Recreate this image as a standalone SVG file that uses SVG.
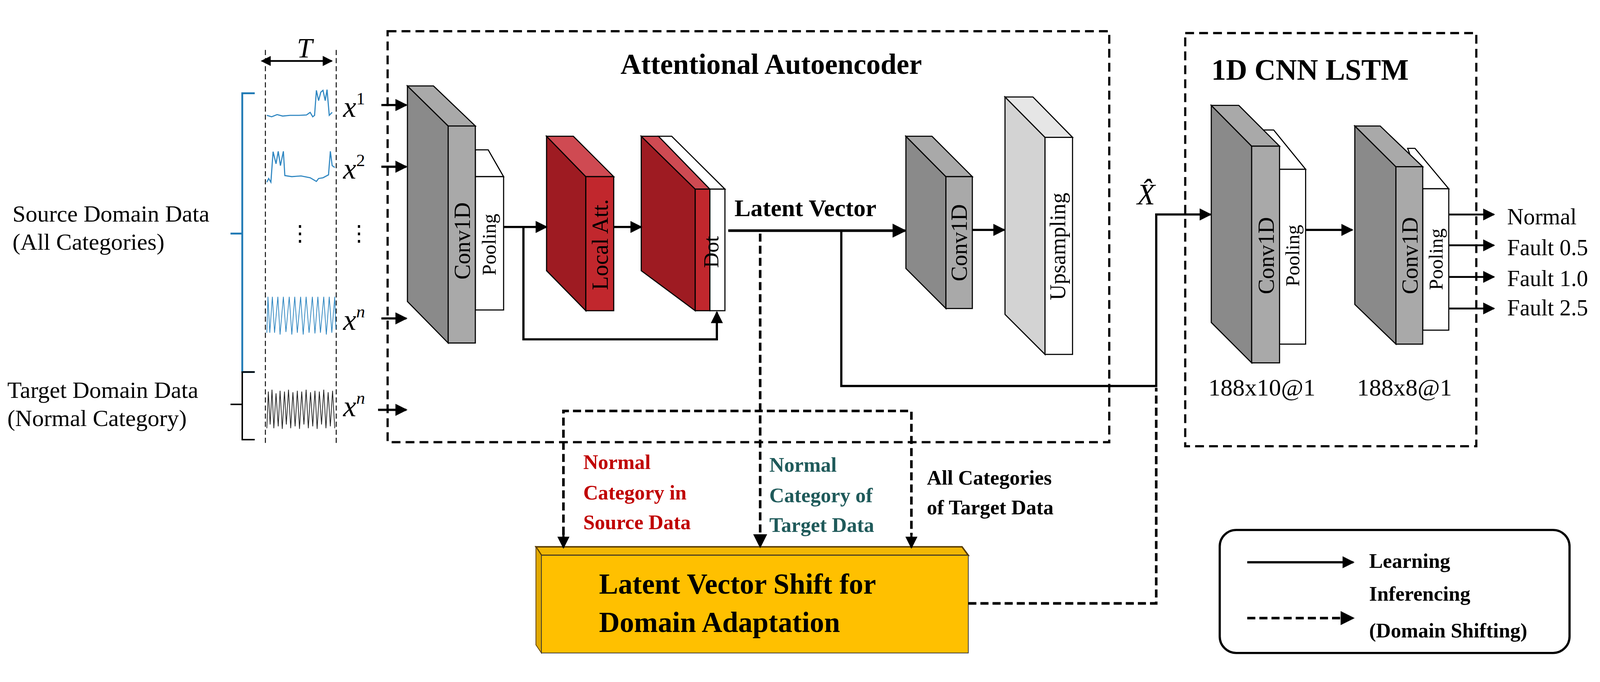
<svg xmlns="http://www.w3.org/2000/svg" width="4359" height="1745" viewBox="0 0 4359 1745" style="position:absolute;left:0;top:0;width:100vw;height:100vh">
<style>
text{font-family:"Liberation Serif","Times New Roman",serif;fill:#000}
.b{font-weight:bold}
.lbl{font-size:64px}
.vt{font-size:62px}
.dbox{fill:none;stroke:#000;stroke-width:6;stroke-dasharray:24 14}
.thin{fill:none;stroke:#000;stroke-width:2.5;stroke-dasharray:14 8}
.sol{fill:none;stroke:#000;stroke-width:6}
.dsh{fill:none;stroke:#000;stroke-width:7;stroke-dasharray:22 11}
.blk{stroke:#000;stroke-width:3}
</style>
<defs>
<marker id="ah" viewBox="0 0 10 10" refX="9" refY="5" markerWidth="5.5" markerHeight="5.5" orient="auto" markerUnits="strokeWidth"><path d="M0,0 L10,5 L0,10 z" fill="#000"/></marker>
<marker id="ah2" viewBox="0 0 10 10" refX="9" refY="5" markerWidth="6.5" markerHeight="6.5" orient="auto" markerUnits="strokeWidth"><path d="M0,0 L10,5 L0,10 z" fill="#000"/></marker>
<marker id="ahs" viewBox="0 0 10 10" refX="1" refY="5" markerWidth="5.5" markerHeight="5.5" orient="auto-start-reverse" markerUnits="strokeWidth"><path d="M0,0 L10,5 L0,10 z" fill="#000"/></marker>
</defs>

<g id="inputs">
<text x="34" y="547" class="lbl">Source  Domain Data</text>
<text x="34" y="624" class="lbl">(All Categories)</text>
<text x="20" y="1027" class="lbl">Target  Domain Data</text>
<text x="20" y="1104" class="lbl">(Normal Category)</text>
<path d="M694,198 H660 V580 H628 M660,580 V957 H694" fill="none" stroke="#1f7ab5" stroke-width="5"/>
<path d="M694,957 H660 V1045 H628 M660,1045 V1141 H694" fill="none" stroke="#000" stroke-width="4"/>
<line x1="723" y1="80" x2="723" y2="1150" class="thin"/>
<line x1="916" y1="80" x2="916" y2="1150" class="thin"/>
<line x1="735" y1="110" x2="904" y2="110" stroke="#000" stroke-width="5" marker-start="url(#ahs)" marker-end="url(#ah)"/>
<text x="830" y="100" font-size="76" font-style="italic" text-anchor="middle">T</text>
<path d="M727,258 L740,262 L755,256 L770,260 L790,258 L815,258 L835,257 L845,250 L852,262 L857,258 L862,190 L868,218 L874,195 L880,190 L886,218 L891,188 L897,258 L905,250" fill="none" stroke="#2e86c1" stroke-width="3"/>
<path d="M727,440 L732,430 L738,440 L744,357 L752,390 L758,356 L764,395 L772,356 L776,422 L795,425 L820,423 L845,428 L862,438 L868,430 L880,428 L895,420 L900,356 L905,395 L912,400" fill="none" stroke="#2e86c1" stroke-width="3"/>
<path d="M727,850 L730,752 L735,850 L742,752 L748,850 L757,752 L763,855 L772,752 L779,848 L788,752 L795,855 L803,752 L810,850 L819,752 L826,855 L834,752 L842,850 L851,752 L858,852 L866,752 L873,850 L882,752 L889,855 L897,752 L904,850 L912,752 L915,840" fill="none" stroke="#2e86c1" stroke-width="2"/>
<path d="M727,1110 L731,1010 L736,1100 L741,1005 L746,1110 L752,1015 L758,1105 L763,1008 L769,1112 L775,1010 L780,1100 L786,1005 L792,1110 L798,1012 L804,1105 L810,1008 L816,1112 L822,1010 L828,1100 L834,1005 L840,1110 L846,1012 L852,1105 L858,1008 L864,1112 L870,1010 L876,1100 L882,1005 L888,1110 L894,1012 L900,1105 L906,1008 L912,1110" fill="none" stroke="#222" stroke-width="2"/>
<text x="817" y="600" font-size="60" text-anchor="middle">⋮</text>
<text x="978" y="600" font-size="60" text-anchor="middle">⋮</text>
<text x="935" y="262" font-size="80" font-style="italic">x<tspan font-size="48" dy="-34" font-style="normal">1</tspan></text>
<text x="935" y="430" font-size="80" font-style="italic">x<tspan font-size="48" dy="-34" font-style="normal">2</tspan></text>
<text x="935" y="842" font-size="80" font-style="italic">x<tspan font-size="48" dy="-34">n</tspan></text>
<text x="935" y="1077" font-size="80" font-style="italic">x<tspan font-size="48" dy="-34">n</tspan></text>
</g>

<g id="autoencoder">
<rect x="1056" y="29" width="1966" height="1119" class="dbox"/>
<text x="2101" y="145" font-size="78" class="b" text-anchor="middle">Attentional  Autoencoder</text>
</g>

<g id="enc-conv">
<polygon points="1295,352 1295,425 1372,425 1330,352" fill="#fff" class="blk"/>
<rect x="1295" y="425" width="77" height="363" fill="#fff" class="blk"/>
<polygon points="1110,178 1221,287 1221,878 1110,765" fill="#8a8a8a" class="blk"/>
<polygon points="1110,178 1181,178 1295,287 1221,287" fill="#a9a9a9" class="blk"/>
<rect x="1221" y="287" width="74" height="591" fill="#a9a9a9" class="blk"/>
<text transform="translate(1280,600) rotate(-90)" class="vt" text-anchor="middle">Conv1D</text>
<text transform="translate(1350,610) rotate(-90)" font-size="54" text-anchor="middle">Pooling</text>
</g>

<g id="local-att">
<polygon points="1489,315 1596,425 1596,790 1489,681" fill="#9e1b22" class="blk"/>
<polygon points="1489,315 1562,315 1672,425 1596,425" fill="#cf4a52" class="blk"/>
<rect x="1596" y="425" width="76" height="365" fill="#c1272d" class="blk"/>
<text transform="translate(1656,610) rotate(-90)" class="vt" text-anchor="middle">Local Att.</text>
</g>

<g id="dot">
<polygon points="1747,315 1894,459 1894,790 1747,681" fill="#9e1b22" class="blk"/>
<polygon points="1747,315 1794,315 1934,459 1894,459" fill="#cf4a52" class="blk"/>
<polygon points="1794,315 1830,315 1975,459 1934,459" fill="#fff" class="blk"/>
<rect x="1894" y="459" width="40" height="331" fill="#c1272d" class="blk"/>
<rect x="1934" y="459" width="41" height="331" fill="#fff" class="blk"/>
<text transform="translate(1957,630) rotate(-90)" font-size="58" text-anchor="middle">Dot</text>
</g>

<g id="latent-label">
<text x="2001" y="532" font-size="66" class="b">Latent Vector</text>
</g>

<g id="dec-conv">
<polygon points="2468,315 2577,425 2577,784 2468,675" fill="#8a8a8a" class="blk"/>
<polygon points="2468,315 2539,315 2649,425 2577,425" fill="#a9a9a9" class="blk"/>
<rect x="2577" y="425" width="72" height="359" fill="#a9a9a9" class="blk"/>
<text transform="translate(2634,605) rotate(-90)" class="vt" text-anchor="middle">Conv1D</text>
</g>

<g id="upsampling">
<polygon points="2738,208 2847,318 2847,909 2738,800" fill="#d3d3d3" class="blk"/>
<polygon points="2738,208 2814,208 2922,318 2847,318" fill="#e6e6e6" class="blk"/>
<rect x="2847" y="318" width="75" height="591" fill="#fff" class="blk"/>
<text transform="translate(2902,615) rotate(-90)" font-size="60" text-anchor="middle">Upsampling</text>
</g>

<g id="cnnlstm">
<rect x="3229" y="34" width="793" height="1125" class="dbox"/>
<text x="3300" y="161" font-size="80" class="b">1D CNN LSTM</text>
<text x="3292" y="1021" font-size="66">188x10@1</text>
<text x="3697" y="1021" font-size="66">188x8@1</text>
</g>

<g id="cnn1">
<polygon points="3440,298 3470,298 3557,405 3486,405" fill="#fff" class="blk"/>
<rect x="3486" y="405" width="71" height="476" fill="#fff" class="blk"/>
<polygon points="3300,231 3410,342 3410,932 3300,822" fill="#8a8a8a" class="blk"/>
<polygon points="3300,231 3375,231 3486,342 3410,342" fill="#a9a9a9" class="blk"/>
<rect x="3410" y="342" width="76" height="590" fill="#a9a9a9" class="blk"/>
<text transform="translate(3470,640) rotate(-90)" class="vt" text-anchor="middle">Conv1D</text>
<text transform="translate(3540,640) rotate(-90)" font-size="54" text-anchor="middle">Pooling</text>
</g>

<g id="cnn2">
<polygon points="3835,348 3855,348 3947,458 3876,458" fill="#fff" class="blk"/>
<rect x="3876" y="458" width="71" height="385" fill="#fff" class="blk"/>
<polygon points="3691,287 3803,398 3803,881 3691,773" fill="#8a8a8a" class="blk"/>
<polygon points="3691,287 3760,287 3876,398 3803,398" fill="#a9a9a9" class="blk"/>
<rect x="3803" y="398" width="73" height="483" fill="#a9a9a9" class="blk"/>
<text transform="translate(3862,640) rotate(-90)" class="vt" text-anchor="middle">Conv1D</text>
<text transform="translate(3930,650) rotate(-90)" font-size="54" text-anchor="middle">Pooling</text>
</g>

<g id="outputs">
<text x="4106" y="555" font-size="62">Normal</text>
<text x="4106" y="639" font-size="62">Fault 0.5</text>
<text x="4106" y="723" font-size="62">Fault 1.0</text>
<text x="4106" y="803" font-size="62">Fault 2.5</text>
<text x="3098" y="501" font-size="80" font-style="italic">X̂</text>
</g>

<g id="shift-box">
<polygon points="1460,1433 2621,1433 2638,1456 1475,1456" fill="#f2b705" stroke="#5a3d00" stroke-width="4"/>
<polygon points="1460,1433 1475,1456 1475,1722 1460,1700" fill="#e0a800" stroke="#5a3d00" stroke-width="2"/>
<rect x="1475" y="1456" width="1163" height="266" fill="#ffc000" stroke="#333" stroke-width="2"/>
<text x="1632" y="1560" font-size="78" class="b">Latent Vector Shift for</text>
<text x="1632" y="1665" font-size="78" class="b">Domain Adaptation</text>
</g>

<g id="inference-labels" class="b" font-size="56">
<text x="1589" y="1221" style="fill:#c00000">Normal</text>
<text x="1589" y="1304" style="fill:#c00000">Category in</text>
<text x="1589" y="1385" style="fill:#c00000">Source  Data</text>
<text x="2096" y="1228" style="fill:#1f5a5a">Normal</text>
<text x="2096" y="1311" style="fill:#1f5a5a">Category of</text>
<text x="2096" y="1392" style="fill:#1f5a5a">Target Data</text>
<text x="2525" y="1264">All Categories</text>
<text x="2525" y="1344">of Target Data</text>
</g>

<g id="legend">
<rect x="3323" y="1387" width="953" height="335" rx="45" fill="none" stroke="#000" stroke-width="6"/>
<line x1="3398" y1="1475" x2="3687" y2="1475" stroke="#000" stroke-width="6" marker-end="url(#ah)"/>
<text x="3730" y="1490" font-size="56" class="b">Learning</text>
<line x1="3398" y1="1627" x2="3687" y2="1627" class="dsh" stroke-width="9" marker-end="url(#ah)"/>
<text x="3730" y="1580" font-size="56" class="b">Inferencing</text>
<text x="3730" y="1680" font-size="56" class="b">(Domain Shifting)</text>
</g>

<g id="connectors">
<line x1="1039" y1="230" x2="1107" y2="230" stroke="#000" stroke-width="6" marker-end="url(#ah)"/>
<line x1="1039" y1="398" x2="1107" y2="398" stroke="#000" stroke-width="6" marker-end="url(#ah)"/>
<line x1="1039" y1="811" x2="1107" y2="811" stroke="#000" stroke-width="6" marker-end="url(#ah)"/>
<line x1="1030" y1="1060" x2="1107" y2="1060" stroke="#000" stroke-width="6" marker-end="url(#ah)"/>
<line x1="1372" y1="562" x2="1489" y2="562" stroke="#000" stroke-width="6" marker-end="url(#ah)"/>
<polyline points="1426,562 1426,868 1953,868 1953,794" class="sol" marker-end="url(#ah)"/>
<line x1="1672" y1="562" x2="1747" y2="562" stroke="#000" stroke-width="6" marker-end="url(#ah)"/>
<line x1="1984" y1="572" x2="2466" y2="572" stroke="#000" stroke-width="7" marker-end="url(#ah)"/>
<line x1="2649" y1="570" x2="2736" y2="570" stroke="#000" stroke-width="6" marker-end="url(#ah)"/>
<polyline points="2292,572 2292,995 3150,995 3150,528 3298,528" class="sol" stroke-width="7" marker-end="url(#ah)"/>
<line x1="3557" y1="570" x2="3684" y2="570" stroke="#000" stroke-width="6" marker-end="url(#ah)"/>
<line x1="3947" y1="528" x2="4070" y2="528" stroke="#000" stroke-width="5" marker-end="url(#ah2)"/>
<line x1="3947" y1="612" x2="4070" y2="612" stroke="#000" stroke-width="5" marker-end="url(#ah2)"/>
<line x1="3947" y1="698" x2="4070" y2="698" stroke="#000" stroke-width="5" marker-end="url(#ah2)"/>
<line x1="3947" y1="784" x2="4070" y2="784" stroke="#000" stroke-width="5" marker-end="url(#ah2)"/>
<line x1="2071" y1="580" x2="2071" y2="1433" class="dsh" stroke-width="6" marker-end="url(#ah)"/>
<polyline points="1535,1400 1535,1063 2483,1063 2483,1400" class="dsh" stroke-width="8"/>
<line x1="1535" y1="1395" x2="1535" y2="1435" stroke="#000" stroke-width="6" marker-end="url(#ah)"/>
<line x1="2483" y1="1395" x2="2483" y2="1435" stroke="#000" stroke-width="6" marker-end="url(#ah)"/>
<polyline points="2638,1587 3150,1587 3150,1000" class="dsh" stroke-width="8"/>
</g>
</svg>
